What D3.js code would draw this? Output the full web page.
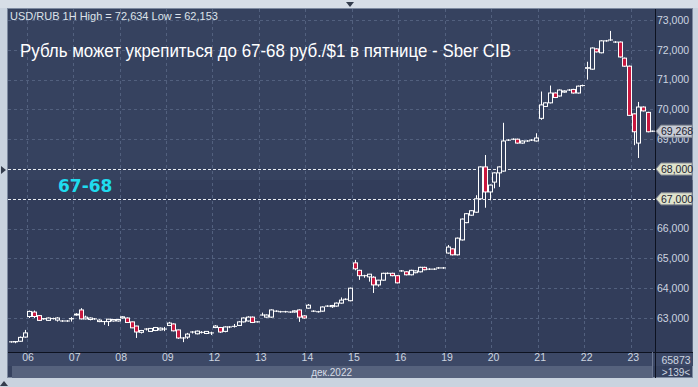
<!DOCTYPE html>
<html>
<head>
<meta charset="utf-8">
<script src="https://cdn.jsdelivr.net/npm/d3@7"></script>
<style>
body { margin: 0; background: #c9d3df; }
svg { display: block; font-family: "Liberation Sans", Arial, sans-serif; }
</style>
</head>
<body>
<div id="canvas"></div>
<script>
// hourly candles, [open, high, low, close]
var candles = [
  [62.20, 62.22, 62.17, 62.20], [62.20, 62.22, 62.153, 62.21], [62.22, 62.38, 62.20, 62.35], [62.36, 62.60, 62.34, 62.50],
  // 06
  [63.05, 63.25, 63.00, 63.22], [63.20, 63.25, 63.00, 63.05], [63.08, 63.10, 62.90, 62.92], [62.97, 63.00, 62.94, 62.98],
  [62.92, 63.02, 62.90, 63.00], [62.98, 63.01, 62.95, 62.98], [62.93, 63.03, 62.88, 63.00], [62.90, 62.93, 62.87, 62.90],
  [62.90, 62.93, 62.87, 62.90], [62.97, 63.03, 62.88, 62.98],
  // 07
  [63.10, 63.16, 63.08, 63.13], [63.27, 63.33, 62.95, 62.97], [62.97, 63.08, 62.95, 63.03], [62.95, 63.02, 62.92, 63.00],
  [62.97, 63.00, 62.94, 62.97], [62.88, 62.96, 62.86, 62.93], [62.88, 62.90, 62.77, 62.88], [62.88, 62.97, 62.73, 62.96],
  [62.90, 62.96, 62.88, 62.95], [62.90, 62.96, 62.88, 62.95],
  // 08
  [63.00, 63.06, 62.98, 63.04], [63.00, 63.02, 62.84, 62.85], [62.87, 62.88, 62.66, 62.67], [62.73, 62.74, 62.33, 62.53],
  [62.52, 62.60, 62.48, 62.58], [62.63, 62.66, 62.58, 62.63], [62.55, 62.66, 62.53, 62.65], [62.58, 62.70, 62.56, 62.68],
  [62.60, 62.68, 62.58, 62.66], [62.63, 62.70, 62.56, 62.63],
  // 09
  [62.75, 62.87, 62.73, 62.83], [62.80, 62.82, 62.55, 62.57], [62.60, 62.61, 62.30, 62.33], [62.33, 62.36, 62.19, 62.33],
  [62.36, 62.50, 62.30, 62.46], [62.53, 62.56, 62.48, 62.53], [62.47, 62.58, 62.45, 62.56], [62.52, 62.56, 62.48, 62.52],
  [62.48, 62.56, 62.46, 62.55], [62.50, 62.54, 62.43, 62.50],
  // 12
  [62.68, 62.76, 62.66, 62.73], [62.68, 62.70, 62.50, 62.53], [62.55, 62.72, 62.52, 62.70], [62.70, 62.73, 62.66, 62.70],
  [62.72, 62.80, 62.68, 62.72], [62.75, 62.90, 62.73, 62.87], [62.87, 63.02, 62.85, 63.00], [62.90, 63.06, 62.88, 63.03],
  [63.03, 63.05, 62.83, 62.85], [62.87, 62.89, 62.85, 62.87],
  // 13
  [63.10, 63.18, 63.08, 63.10], [63.03, 63.12, 63.01, 63.10], [63.03, 63.29, 63.01, 63.27], [63.23, 63.26, 63.20, 63.23],
  [63.21, 63.24, 63.18, 63.21], [63.21, 63.24, 63.18, 63.21], [63.20, 63.22, 63.17, 63.20], [63.20, 63.26, 63.18, 63.24],
  [63.27, 63.29, 62.87, 63.03], [63.07, 63.09, 62.98, 63.00],
  // 14
  [63.33, 63.47, 63.31, 63.43], [63.23, 63.26, 63.20, 63.23], [63.21, 63.24, 63.18, 63.21], [63.23, 63.39, 63.21, 63.37],
  [63.40, 63.43, 63.37, 63.40], [63.38, 63.44, 63.34, 63.42], [63.40, 63.52, 63.38, 63.50], [63.50, 63.69, 63.48, 63.60],
  [63.63, 63.66, 63.60, 63.63], [63.58, 64.02, 63.56, 64.00],
  // 15
  [64.85, 64.95, 64.60, 64.65], [64.60, 64.62, 64.28, 64.42], [64.42, 64.45, 64.35, 64.42], [64.38, 64.48, 64.22, 64.47],
  [64.37, 64.40, 63.84, 64.11], [64.11, 64.28, 64.05, 64.27], [64.27, 64.52, 64.25, 64.50], [64.50, 64.53, 64.47, 64.50],
  [64.50, 64.52, 64.40, 64.42], [64.42, 64.44, 64.16, 64.18],
  // 16
  [64.58, 64.61, 64.55, 64.58], [64.55, 64.57, 64.43, 64.45], [64.45, 64.62, 64.43, 64.60], [64.52, 64.60, 64.50, 64.58],
  [64.55, 64.72, 64.53, 64.70], [64.70, 64.72, 64.60, 64.62], [64.64, 64.67, 64.61, 64.64], [64.64, 64.67, 64.61, 64.64],
  [64.68, 64.71, 64.65, 64.68], [64.68, 64.71, 64.65, 64.68],
  // 19
  [65.18, 65.45, 65.16, 65.38], [65.32, 65.34, 65.10, 65.12], [65.12, 65.70, 65.10, 65.68], [65.62, 66.34, 65.60, 66.32],
  [66.20, 66.52, 66.18, 66.50], [66.45, 66.62, 66.43, 66.60], [66.55, 67.12, 66.53, 67.00], [67.00, 68.09, 66.98, 68.07],
  [68.07, 68.47, 66.70, 67.23], [67.23, 67.48, 66.95, 67.46],
  // 20
  [67.56, 67.89, 67.35, 67.87], [67.87, 68.09, 67.40, 68.07], [67.93, 69.55, 67.91, 68.94], [68.97, 69.00, 68.94, 68.97],
  [69.00, 69.03, 68.97, 69.00], [69.00, 69.02, 68.85, 68.87], [68.87, 68.96, 68.85, 68.94], [68.94, 68.97, 68.91, 68.94],
  [68.97, 69.00, 68.94, 68.97], [68.94, 69.20, 68.92, 69.04],
  // 21
  [69.70, 70.60, 69.65, 70.15], [70.10, 70.24, 70.08, 70.22], [70.22, 70.80, 70.20, 70.55], [70.55, 70.57, 70.38, 70.40],
  [70.45, 70.67, 70.43, 70.65], [70.58, 70.64, 70.56, 70.62], [70.65, 70.68, 70.62, 70.65], [70.67, 70.69, 70.53, 70.55],
  [70.55, 70.80, 70.53, 70.78], [70.80, 70.83, 70.77, 70.80],
  // 22
  [71.38, 71.60, 71.00, 71.40], [71.35, 72.08, 71.33, 72.06], [72.03, 72.05, 71.91, 71.93], [71.90, 72.32, 71.88, 72.30],
  [72.30, 72.33, 72.27, 72.30], [72.33, 72.634, 72.30, 72.33], [72.26, 72.29, 72.23, 72.26], [72.26, 72.28, 71.74, 71.76],
  [71.72, 71.74, 71.43, 71.45], [71.45, 71.47, 69.78, 69.80],
  // 23
  [69.85, 69.87, 68.80, 69.25], [68.87, 70.25, 68.37, 70.08], [70.08, 70.10, 69.93, 69.95], [69.90, 69.92, 69.23, 69.25],
  [69.27, 69.29, 69.24, 69.268]
];

var dayStarts = [4, 14, 24, 34, 44, 54, 64, 74, 84, 94, 104, 114, 124, 134];
var dayLabels = ["06", "07", "08", "09", "12", "13", "14", "15", "16", "19", "20", "21", "22", "23"];
var priceTicks = [63, 64, 65, 66, 67, 68, 69, 70, 71, 72, 73];
var levels = [68, 67];
var lastPrice = 69.268;

var W = 698, H = 387;
var pLeft = 8, pRight = 655, pTop = 9, pBottom = 352, frameR = 693, frameB = 378;
var plotBg = "#36425f";

var svg = d3.select("#canvas").append("svg")
  .attr("width", W).attr("height", H);

// outer frame
svg.append("rect").attr("width", W).attr("height", H).attr("fill", "#c9d3df");
svg.append("rect").attr("x", 0).attr("y", 0).attr("width", W).attr("height", 8).attr("fill", "#d7dee7");
svg.append("rect").attr("x", pLeft - 0.5).attr("y", pTop - 0.5)
  .attr("width", frameR - pLeft).attr("height", frameB - pTop)
  .attr("fill", plotBg).attr("stroke", "#7d8aa0").attr("stroke-width", 1);
// a little darker towards the bottom
svg.append("rect").attr("x", pLeft).attr("y", 180).attr("width", frameR - pLeft).attr("height", pBottom - 180)
  .attr("fill", "#2c3752").attr("opacity", 0.4);

// bottom rows
svg.append("rect").attr("x", pLeft).attr("y", pBottom).attr("width", frameR - pLeft).attr("height", 14).attr("fill", "#3c4866");
svg.append("rect").attr("x", 12).attr("y", 366).attr("width", 640).attr("height", 12).attr("fill", "#56627d");
svg.append("line").attr("x1", pLeft).attr("x2", frameR).attr("y1", pBottom + 0.5).attr("y2", pBottom + 0.5)
  .attr("stroke", "#0d1220");
svg.append("line").attr("x1", pRight + 0.5).attr("x2", pRight + 0.5).attr("y1", pTop).attr("y2", frameB)
  .attr("stroke", "#0d1220");
svg.append("line").attr("x1", 652.5).attr("x2", 652.5).attr("y1", pBottom).attr("y2", frameB)
  .attr("stroke", "#6b7791");

// scales
var x = d3.scaleBand().domain(d3.range(candles.length)).range([pLeft, pRight]).padding(0.22);
var y = d3.scaleLinear().domain([63, 73]).range([318, 20]);
var step = x.step();
function dayX(i) { return pLeft + i * step; }

// grid
var grid = svg.append("g").attr("stroke", "#52607e").attr("stroke-dasharray", "3,3").attr("stroke-width", 1);
grid.selectAll("line.h").data(priceTicks.filter(function(d) { return levels.indexOf(d) < 0; })).enter()
  .append("line").attr("class", "h")
  .attr("x1", pLeft).attr("x2", pRight)
  .attr("y1", function(d) { return Math.round(y(d)) + 0.5; })
  .attr("y2", function(d) { return Math.round(y(d)) + 0.5; });
grid.selectAll("line.v").data(dayStarts).enter()
  .append("line").attr("class", "v")
  .attr("y1", pTop).attr("y2", pBottom)
  .attr("x1", function(d) { return Math.round(dayX(d)) + 0.5; })
  .attr("x2", function(d) { return Math.round(dayX(d)) + 0.5; });

// level lines 67 / 68
svg.append("g").selectAll("line").data(levels).enter().append("line")
  .attr("x1", pLeft).attr("x2", pRight)
  .attr("y1", function(d) { return Math.round(y(d)) + 0.5; })
  .attr("y2", function(d) { return Math.round(y(d)) + 0.5; })
  .attr("stroke", "#e8ecf2").attr("stroke-dasharray", "3,2");

// candles
var c = svg.append("g");
c.selectAll("line").data(candles).enter().append("line")
  .attr("x1", function(d, i) { return Math.round(x(i) + x.bandwidth() / 2) + 0.5; })
  .attr("x2", function(d, i) { return Math.round(x(i) + x.bandwidth() / 2) + 0.5; })
  .attr("y1", function(d) { return y(d[1]); })
  .attr("y2", function(d) { return y(d[2]); })
  .attr("stroke", "#ffffff");
c.selectAll("rect").data(candles).enter().append("rect")
  .attr("x", function(d, i) { return Math.round(x(i) + x.bandwidth() / 2) - 1.5; })
  .attr("width", 4)
  .attr("y", function(d) { return y(Math.max(d[0], d[3])); })
  .attr("height", function(d) { return Math.max(0.01, Math.abs(y(d[0]) - y(d[3]))); })
  .attr("fill", function(d) { return d[3] < d[0] ? "#c8173f" : plotBg; })
  .attr("stroke", "#ffffff").attr("stroke-width", 1);

// right axis (the 69,000 label sits under the last-price tag, as in the original)
var yAxis = svg.append("g")
  .attr("transform", "translate(" + (pRight + 2) + ",0)")
  .call(d3.axisRight(y).tickValues(priceTicks.filter(function(d) { return levels.indexOf(d) < 0; })).tickSize(0)
    .tickFormat(function(d) { return d.toFixed(3).replace(".", ","); }));
yAxis.select(".domain").remove();
yAxis.selectAll("text").attr("fill", "#cdd5e0").style("font-size", "10.5px").attr("x", 0);

// price tags
function tag(v, label, bg) {
  var g = svg.append("g").attr("transform", "translate(" + pRight + "," + y(v) + ")");
  g.append("path").attr("d", "M1,0 L6,-6 L37,-6 L37,6 L6,6 Z").attr("fill", bg).attr("stroke", "#8a8f98");
  g.append("text").attr("x", 6).attr("y", 4).attr("fill", "#1e2330").style("font-size", "10.5px").text(label);
}
levels.forEach(function(v) { tag(v, v.toFixed(3).replace(".", ","), "#dfe3cd"); });
tag(lastPrice, lastPrice.toFixed(3).replace(".", ","), "#c7ccd6");

// bottom axis
var xAxis = svg.append("g")
  .attr("transform", "translate(0," + pBottom + ")")
  .call(d3.axisBottom(d3.scaleLinear().domain([0, candles.length]).range([pLeft, pRight]))
    .tickValues(dayStarts).tickSize(0).tickPadding(2)
    .tickFormat(function(d, i) { return dayLabels[i]; }));
xAxis.select(".domain").remove();
xAxis.selectAll("text").attr("fill", "#cdd5e0").style("font-size", "10.5px").attr("dx", 1);

svg.append("text").attr("x", 352).attr("y", 376).attr("text-anchor", "end")
  .attr("fill", "#d6dce6").style("font-size", "10px").text("дек.2022");
svg.append("text").attr("x", 676).attr("y", 364).attr("text-anchor", "middle")
  .attr("fill", "#cdd5e0").style("font-size", "10.5px").text("65873");
svg.append("text").attr("x", 676).attr("y", 376).attr("text-anchor", "middle")
  .attr("fill", "#cdd5e0").style("font-size", "10px").text(">139<");

// titles
svg.append("text").attr("x", 10).attr("y", 20).attr("fill", "#dde2ea")
  .style("font-size", "11px").text("USD/RUB 1H High = 72,634 Low = 62,153");
svg.append("text").attr("x", 20).attr("y", 57).attr("fill", "#ffffff")
  .style("font-size", "18.5px").attr("textLength", 491).attr("lengthAdjust", "spacingAndGlyphs")
  .text("Рубль может укрепиться до 67-68 руб./$1 в пятнице - Sber CIB");
svg.append("text").attr("x", 58).attr("y", 192).attr("fill", "#1fdcef")
  .style("font-family", "DejaVu Sans").style("font-weight", "bold").style("font-size", "17px")
  .text("67-68");

// little frame arrows
svg.append("path").attr("d", "M346,2 L354,2 L350,7 Z").attr("fill", "#333c4c");
svg.append("path").attr("d", "M1,166 L6,170 L1,174 Z").attr("fill", "#333c4c");
svg.append("path").attr("d", "M0,386 L4,381 L8,386 Z").attr("fill", "#333c4c");
</script>
</body>
</html>
